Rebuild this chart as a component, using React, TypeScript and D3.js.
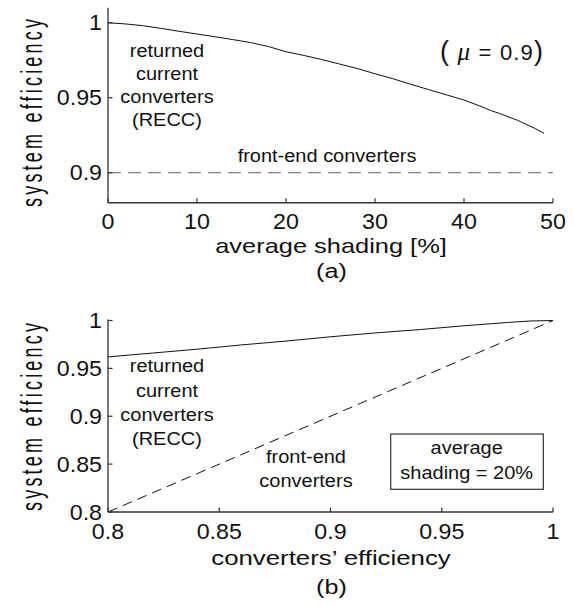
import React from 'react';
import * as d3 from 'd3';

// ---- data (a) ----
const shading = [0, 2, 4, 6, 8, 10, 12, 14, 16, 18, 20, 22, 24, 26, 28, 30, 32, 34, 36, 38, 40, 42, 43, 44, 46, 48, 49];
const reccShading = [1.0, 0.9992, 0.998, 0.9962, 0.9943, 0.9925, 0.9907, 0.9888, 0.9868, 0.9842, 0.9807, 0.9782, 0.9755, 0.9725, 0.9695, 0.966, 0.9627, 0.959, 0.9555, 0.952, 0.9485, 0.944, 0.9415, 0.9395, 0.935, 0.9295, 0.9263];
const frontShading = [0, 50];
const frontShadingEff = [0.9, 0.9];
const topXTicks = [0, 10, 20, 30, 40, 50];
const topYTicks = [0.9, 0.95, 1];

// ---- data (b) ----
const convEff = [0.8, 0.82, 0.84, 0.86, 0.88, 0.9, 0.92, 0.94, 0.96, 0.98, 0.99, 1.0];
const reccConv = [0.962, 0.966, 0.97, 0.9745, 0.9785, 0.983, 0.987, 0.9905, 0.9945, 0.998, 0.9995, 1.0];
const frontConv = [0.8, 1.0];
const frontConvEff = [0.8, 1.0];
const botXTicks = [0.8, 0.85, 0.9, 0.95, 1];
const botYTicks = [0.8, 0.85, 0.9, 0.95, 1];

const FONT = '"Liberation Sans", Arial, Helvetica, sans-serif';
const SERIF = '"Liberation Serif", "Times New Roman", serif';
const fmt = (v: number) => String(+v.toFixed(2));

function T({ x, y, size = 18, sx = 1.1, anchor = 'middle', children }: any) {
  return (
    <text
      transform={`translate(${x},${y}) scale(${sx},1)`}
      textAnchor={anchor}
      fontSize={size}
      fontFamily={FONT}
      fill="#111"
      style={{ whiteSpace: 'pre' }}
    >
      {children}
    </text>
  );
}

function YLabel({ x, y }: { x: number; y: number }) {
  const along = 0.82;
  return (
    <text
      transform={`translate(${x},${y}) rotate(-90) scale(${along},1.3)`}
      textAnchor="middle"
      fontSize={22}
      fontFamily={FONT}
      fill="#111"
      textLength={188 / along}
      lengthAdjust="spacing"
    >
      system efficiency
    </text>
  );
}

export default function App() {
  const left = 108, right = 553;
  // chart (a)
  const xA = d3.scaleLinear().domain([0, 50]).range([left, right]);
  const yA = d3.scaleLinear().domain([0.88, 1.01]).range([202.75, 7.75]);
  // chart (b)
  const xB = d3.scaleLinear().domain([0.8, 1]).range([left, right]);
  const yB = d3.scaleLinear().domain([0.8, 1]).range([512, 320.5]);

  const lineA = d3.line<number>().x((_, i) => xA(shading[i])).y((d) => yA(d));
  const lineAf = d3.line<number>().x((_, i) => xA(frontShading[i])).y((d) => yA(d));
  const lineB = d3.line<number>().x((_, i) => xB(convEff[i])).y((d) => yB(d));
  const lineBf = d3.line<number>().x((_, i) => xB(frontConvEff[i])).y((d) => yB(d));

  const axisColor = '#333';
  const tk = 4.5;
  const tickSize = 21.5;
  const tickSx = 1.08;

  return (
    <svg width={574} height={606} style={{ position: 'absolute', left: 0, top: 0, background: '#fff' }}>
      {/* ================= (a) ================= */}
      <g>
        <path d={lineAf(frontShadingEff) || ''} fill="none" stroke="#666" strokeWidth={1.1} strokeDasharray="13,7" />
        <path d={lineA(reccShading) || ''} fill="none" stroke="#111" strokeWidth={1} />
        <line x1={left} x2={left} y1={yA.range()[0]} y2={yA.range()[1]} stroke={axisColor} strokeWidth={1.3} />
        <line x1={left} x2={right} y1={yA.range()[0]} y2={yA.range()[0]} stroke={axisColor} strokeWidth={1.3} />
        {topXTicks.map((t) => (
          <g key={'ax' + t}>
            <line x1={xA(t)} x2={xA(t)} y1={yA.range()[0]} y2={yA.range()[0] - tk} stroke={axisColor} strokeWidth={1.2} />
            <T x={xA(t)} y={229} size={tickSize} sx={tickSx}>{String(t)}</T>
          </g>
        ))}
        {topYTicks.map((t) => (
          <g key={'ay' + t}>
            <line x1={left} x2={left + tk} y1={yA(t)} y2={yA(t)} stroke={axisColor} strokeWidth={1.2} />
            <T x={left - 6} y={yA(t) + 7.5} size={tickSize} sx={tickSx} anchor="end">{fmt(t)}</T>
          </g>
        ))}
        <YLabel x={42} y={113} />
        <T x={331} y={253} size={21} sx={1.21}>average shading [%]</T>
        <T x={331.5} y={277.5} size={21} sx={1.2}>(a)</T>
        <T x={167} y={56.5} size={18.5} sx={1.08}>returned</T>
        <T x={167} y={79.5} size={18.5} sx={1.08}>current</T>
        <T x={167} y={103} size={18.5} sx={1.08}>converters</T>
        <T x={167} y={126} size={18.5} sx={1.08}>(RECC)</T>
        <T x={327} y={162.3} size={18.5} sx={1.08}>front-end converters</T>
        <text x={440} y={60} fontFamily={FONT} fill="#111" textLength={103} lengthAdjust="spacing" style={{ whiteSpace: 'pre' }}>
          <tspan fontSize={27}>(</tspan>
          <tspan fontSize={25} fontStyle="italic" fontFamily={SERIF}> μ</tspan>
          <tspan fontSize={22}> = 0.9</tspan>
          <tspan fontSize={27}>)</tspan>
        </text>
      </g>

      {/* ================= (b) ================= */}
      <g>
        <path d={lineBf(frontConv) || ''} fill="none" stroke="#111" strokeWidth={1} strokeDasharray="10,6" />
        <path d={lineB(reccConv) || ''} fill="none" stroke="#111" strokeWidth={1} />
        <line x1={left} x2={left} y1={yB.range()[0]} y2={yB.range()[1] - 1} stroke={axisColor} strokeWidth={1.3} />
        <line x1={left} x2={right} y1={yB.range()[0]} y2={yB.range()[0]} stroke={axisColor} strokeWidth={1.3} />
        {botXTicks.map((t) => (
          <g key={'bx' + t}>
            <line x1={xB(t)} x2={xB(t)} y1={yB.range()[0]} y2={yB.range()[0] - tk} stroke={axisColor} strokeWidth={1.2} />
            <T x={xB(t)} y={539} size={tickSize} sx={tickSx}>{fmt(t)}</T>
          </g>
        ))}
        {botYTicks.map((t) => (
          <g key={'by' + t}>
            <line x1={left} x2={left + tk} y1={yB(t)} y2={yB(t)} stroke={axisColor} strokeWidth={1.2} />
            <T x={left - 6} y={yB(t) + 7.5} size={tickSize} sx={tickSx} anchor="end">{fmt(t)}</T>
          </g>
        ))}
        <YLabel x={42} y={417} />
        <T x={331} y={565} size={21} sx={1.23}>converters’ efficiency</T>
        <T x={331.5} y={593.5} size={21} sx={1.2}>(b)</T>
        <T x={167} y={371.7} size={18.5} sx={1.08}>returned</T>
        <T x={167} y={396.5} size={18.5} sx={1.08}>current</T>
        <T x={167} y={420.7} size={18.5} sx={1.08}>converters</T>
        <T x={167} y={445} size={18.5} sx={1.08}>(RECC)</T>
        <T x={306} y={462.7} size={18.5} sx={1.08}>front-end</T>
        <T x={306} y={486.7} size={18.5} sx={1.08}>converters</T>
        <rect x={390.7} y={434} width={152.6} height={55.3} fill="none" stroke="#222" strokeWidth={1.1} />
        <T x={466.7} y={454.3} size={18.5} sx={1.08}>average</T>
        <T x={466.7} y={479} size={18.5} sx={1.08}>shading = 20%</T>
      </g>
    </svg>
  );
}
